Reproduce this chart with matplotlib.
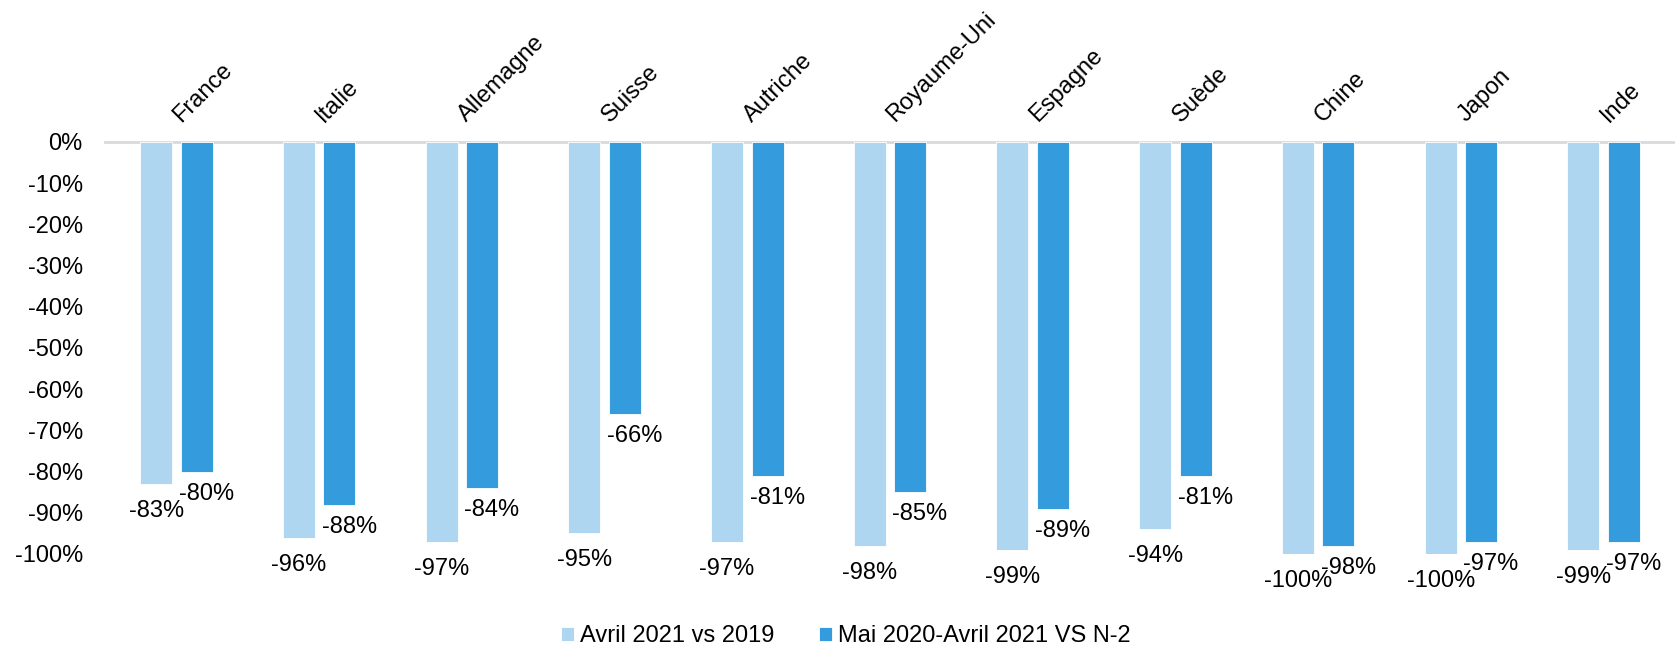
import matplotlib
matplotlib.use("Agg")
import matplotlib.pyplot as plt
import numpy as np

# --- data ---
pays = ["France", "Italie", "Allemagne", "Suisse", "Autriche", "Royaume-Uni",
        "Espagne", "Suède", "Chine", "Japon", "Inde"]
avril_2021 = [-83, -96, -97, -95, -97, -98, -99, -94, -100, -100, -99]
mai_avril = [-80, -88, -84, -66, -81, -85, -89, -81, -98, -97, -97]
series_names = ["Avril 2021 vs 2019", "Mai 2020-Avril 2021 VS N-2"]
yticks = [0, -10, -20, -30, -40, -50, -60, -70, -80, -90, -100]

light = "#AED6F0"
dark = "#349CDC"

plt.rcParams['font.family'] = ['Liberation Sans', 'DejaVu Sans']
fs = 17

fig = plt.figure(figsize=(16.75, 6.46), dpi=100)
ax = fig.add_axes([105 / 1675, 1 - 554 / 646, 1 - 105 / 1675, (554 - 142) / 646])

x = np.arange(len(pays))
w = 0.224
off = 0.142
b1 = ax.bar(x - off, avril_2021, w, color=light, edgecolor="white", linewidth=0.6, label=series_names[0])
b2 = ax.bar(x + off, mai_avril, w, color=dark, edgecolor="white", linewidth=0.6, label=series_names[1])

ax.set_xlim(-0.5, len(pays) - 0.5)
ax.set_ylim(-100, 0)
ax.set_yticks(yticks)
ax.set_yticklabels([f"{t}%" for t in yticks], fontsize=fs)
ax.tick_params(axis="y", length=0, pad=16)
ax.set_xticks([])
for s in ax.spines.values():
    s.set_visible(False)
ax.axhline(0, color="#D9D9D9", lw=2, zorder=0, clip_on=False)

# category labels on top, rotated
for i, p in enumerate(pays):
    ax.annotate(p, (i + 0.035, 0), xytext=(0, 14), textcoords="offset points",
                rotation=45, rotation_mode="anchor", ha="left", va="baseline",
                fontsize=fs, annotation_clip=False)

# value labels
for i in range(len(pays)):
    ax.annotate(f"{avril_2021[i]}%", (x[i] - off, avril_2021[i]), xytext=(0, -19.5),
                textcoords="offset points", ha="center", va="center",
                fontsize=fs, annotation_clip=False)
    ax.annotate(f"{mai_avril[i]}%", (x[i] + off, mai_avril[i]), xytext=(7, -16),
                textcoords="offset points", ha="center", va="center",
                fontsize=fs, annotation_clip=False)

fig.legend(handles=[b1, b2], loc="center", bbox_to_anchor=(0.505, 0.0155),
           ncol=2, frameon=False, fontsize=fs, handlelength=0.55, handleheight=0.55,
           handletextpad=0.25, columnspacing=1.9, borderpad=0, borderaxespad=0)

fig.savefig("out.png", dpi=100)
